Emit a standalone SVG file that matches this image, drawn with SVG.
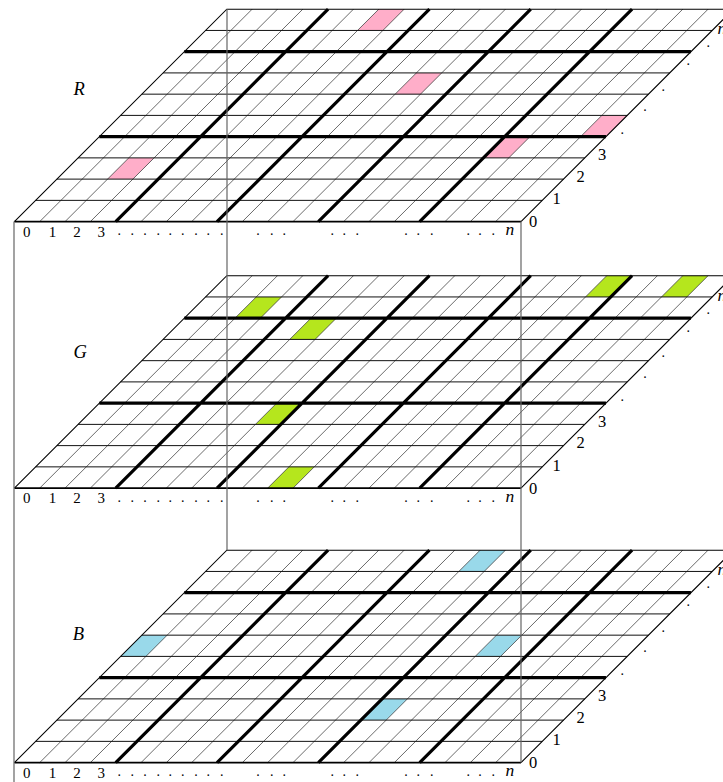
<svg xmlns="http://www.w3.org/2000/svg" xmlns:xlink="http://www.w3.org/1999/xlink" width="723" height="782" viewBox="0 0 723 782">
<style>
.thin{stroke:#444;stroke-width:0.8;fill:none}
.row{stroke:#111;stroke-width:1;fill:none}
.thick{stroke:#000;stroke-width:3.2;fill:none}
.edge{stroke:#000;stroke-width:1.1;fill:none}
.base{stroke:#000;stroke-width:1.8;fill:none}
.frame{stroke:#666;stroke-width:1.2;fill:none}
.num{font-family:"Liberation Serif","Times New Roman",serif;font-size:15px;fill:#000}
.dot{font-family:"Liberation Serif","Times New Roman",serif;font-size:14px;fill:#000}
.rnum{font-family:"Liberation Serif","Times New Roman",serif;font-size:16.5px;fill:#000}
.it{font-family:"Liberation Serif","Times New Roman",serif;font-style:italic;font-size:17.5px;fill:#000}
.lbl{font-family:"Liberation Serif","Times New Roman",serif;font-style:italic;font-size:18.5px;fill:#000}
.pk{fill:#FFAEC9}.gr{fill:#B5E61D}.bl{fill:#99D9EA}
</style>
<defs>
<g id="grid">
<path class="thin" d="M39.73 221.6l212.4-212.4M65.06 221.6l212.4-212.4M90.39 221.6l212.4-212.4M115.72 221.6l212.4-212.4M141.05 221.6l212.4-212.4M166.38 221.6l212.4-212.4M191.71 221.6l212.4-212.4M217.04 221.6l212.4-212.4M242.37 221.6l212.4-212.4M267.7 221.6l212.4-212.4M293.03 221.6l212.4-212.4M318.36 221.6l212.4-212.4M343.69 221.6l212.4-212.4M369.02 221.6l212.4-212.4M394.35 221.6l212.4-212.4M419.68 221.6l212.4-212.4M445.01 221.6l212.4-212.4M470.34 221.6l212.4-212.4M495.67 221.6l212.4-212.4"/>
<path class="row" d="M35.64 200.36h506.6M56.88 179.12h506.6M78.12 157.88h506.6M99.36 136.64h506.6M120.6 115.4h506.6M141.84 94.16h506.6M163.08 72.92h506.6M184.32 51.68h506.6M205.56 30.44h506.6"/>
<path class="thick" d="M99.36 136.64h506.6M184.32 51.68h506.6M115.72 221.6l212.4-212.4M217.04 221.6l212.4-212.4M318.36 221.6l212.4-212.4M419.68 221.6l212.4-212.4"/>
<path class="edge" d="M14.4 221.6L226.8 9.2H733.4M521 221.6L733.4 9.2"/>
<path class="base" d="M14.4 221.6H521"/>
<text class="num" y="236.5" x="23 48.8 73.2 97.6">0123</text>
<text class="dot" y="235" x="117.5 130.6 143.2 156.5 168.5 181 194.2 206.5 220 256.2 270 282.5 330.5 342.5 355.5 404.2 416.5 430 466.5 478.2 491.5">.....................</text>
<text class="it" x="505.5" y="235">n</text>
<text class="rnum" x="529" y="227">0</text>
<text class="rnum" x="552.5" y="204">1</text>
<text class="rnum" x="576.5" y="181.5">2</text>
<text class="rnum" x="598" y="160">3</text>
<text class="dot" x="620.5 643.2 661.5 686.5 706.5" y="134 111.3 90.6 65.3 47.3">.....</text>
<text class="it" x="717.5" y="34">n</text>
</g>
</defs>
<g id="layer-R">
<path class="pk" d="M107.54 179.12h25.33l21.24-21.24h-25.33zM357.54 30.44h25.33l21.24-21.24h-25.33zM395.14 94.16h25.33l21.24-21.24h-25.33zM580.63 136.64h25.33l21.24-21.24h-25.33zM483.4 157.88h25.33l21.24-21.24h-25.33z"/>
<use xlink:href="#grid" href="#grid"/>
<text class="lbl" x="73.5" y="95">R</text>
</g>
<g id="layer-G">
<g transform="translate(0,266.5)">
<path class="gr" d="M234.98 51.68h25.33l21.24-21.24h-25.33zM289.73 72.92h25.33l21.24-21.24h-25.33zM255.43 157.88h25.33l21.24-21.24h-25.33zM267.7 221.6h25.33l21.24-21.24h-25.33zM585.51 30.44h25.33l21.24-21.24h-25.33zM661.5 30.44h25.33l21.24-21.24h-25.33z"/>
<use xlink:href="#grid" href="#grid"/>
</g>
<text class="lbl" x="73.5" y="358">G</text>
</g>
<g id="layer-B">
<g transform="translate(0,541)">
<path class="bl" d="M120.6 115.4h25.33l21.24-21.24h-25.33zM458.86 30.44h25.33l21.24-21.24h-25.33zM475.22 115.4h25.33l21.24-21.24h-25.33zM360.84 179.12h25.33l21.24-21.24h-25.33z"/>
<use xlink:href="#grid" href="#grid"/>
</g>
<text class="lbl" x="72.7" y="640">B</text>
</g>
<g id="connectors">
<path class="frame" d="M14 221.6V782M227 9.2V550.2M521 221.6V762.6"/>
</g>
</svg>
